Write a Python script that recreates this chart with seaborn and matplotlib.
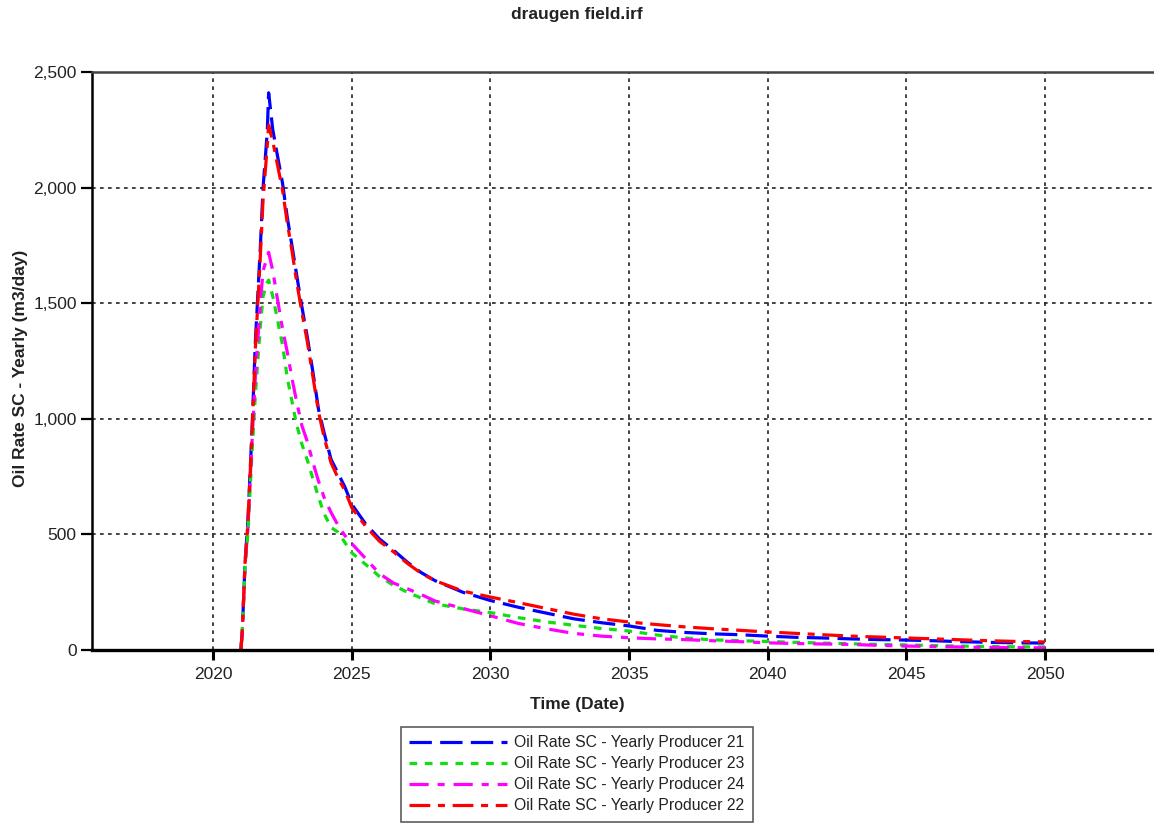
import numpy as np
import pandas as pd
import seaborn as sns
import matplotlib
matplotlib.use("Agg")
import matplotlib.pyplot as plt
from matplotlib.ticker import FuncFormatter

sns.set_theme(style="white")
plt.rcParams["font.family"] = ["Liberation Sans", "DejaVu Sans"]

# ---------------- data ----------------
time = [2021.0, 2021.05, 2021.15, 2021.25, 2021.4, 2021.52, 2021.7, 2021.8, 2021.95,
        2022.0, 2022.15, 2022.3, 2022.5, 2022.67, 2022.85,
        2023.0, 2023.2, 2023.4, 2023.6, 2023.8,
        2024.0, 2024.25, 2024.5, 2024.75,
        2025.0, 2025.5, 2026.0, 2026.5, 2027.0, 2027.5, 2028.0, 2029.0, 2030.0,
        2031, 2032, 2033, 2034, 2035, 2036, 2037, 2038, 2039, 2040,
        2041, 2042, 2043, 2044, 2045, 2046, 2047, 2048, 2049, 2050]

producer_21 = [0, 80, 380, 550, 950, 1330, 1740, 2000, 2240,
               2410, 2250, 2150, 2020, 1873, 1743,
               1630, 1484, 1350, 1200, 1040,
               940, 825, 765, 705,
               630, 545, 480, 432, 380, 335, 300, 250, 214,
               185, 160, 135, 118, 104, 85, 76, 70, 66, 60,
               55, 52, 48, 45, 43, 40, 36, 33, 31, 30]

producer_23 = [0, 80, 360, 500, 850, 1100, 1400, 1530, 1590,
               1600, 1530, 1440, 1320, 1180, 1070,
               980, 890, 820, 740, 660,
               590, 530, 510, 465,
               420, 370, 318, 280, 250, 225, 200, 178, 162,
               140, 122, 107, 93, 82, 65, 52, 44, 40, 37,
               33, 30, 27, 24, 22, 19, 17, 15, 14, 13]

producer_24 = [0, 80, 370, 520, 900, 1180, 1500, 1640, 1700,
               1720, 1640, 1530, 1390, 1290, 1170,
               1080, 970, 900, 810, 730,
               660, 595, 540, 495,
               460, 395, 330, 290, 265, 240, 212, 180, 148,
               115, 92, 72, 60, 53, 48, 45, 40, 36, 31,
               28, 26, 24, 20, 17, 15, 13, 11, 10, 9]

producer_22 = [0, 80, 380, 545, 940, 1300, 1700, 1950, 2180,
               2270, 2200, 2110, 1990, 1850, 1720,
               1600, 1460, 1330, 1180, 1030,
               920, 810, 745, 690,
               615, 535, 470, 425, 375, 332, 300, 255, 229,
               205, 180, 155, 135, 121, 110, 100, 92, 85, 78,
               72, 66, 60, 56, 52, 48, 44, 40, 37, 35]

series_names = ["Oil Rate SC - Yearly Producer 21",
                "Oil Rate SC - Yearly Producer 23",
                "Oil Rate SC - Yearly Producer 24",
                "Oil Rate SC - Yearly Producer 22"]
series_values = [producer_21, producer_23, producer_24, producer_22]

x_ticks = [2020, 2025, 2030, 2035, 2040, 2045, 2050]
y_ticks = [0, 500, 1000, 1500, 2000, 2500]

# ---------------- long table ----------------
frames = []
for name, vals in zip(series_names, series_values):
    frames.append(pd.DataFrame({"Time": time, "Rate": vals, "Series": name}))
df = pd.concat(frames, ignore_index=True)

palette = {series_names[0]: "#0000ff",
           series_names[1]: "#11dd11",
           series_names[2]: "#ff00ff",
           series_names[3]: "#ff0000"}
dashes = {series_names[0]: (7.0, 2.6),
          series_names[1]: (2.4, 2.4),
          series_names[2]: (6.0, 2.8, 2.2, 2.8),
          series_names[3]: (6.5, 2.4, 2.2, 2.4)}

# ---------------- figure ----------------
fig = plt.figure(figsize=(11.54, 8.25), dpi=100)
ax = fig.add_axes([92 / 1154, 1 - 650 / 825, 1 - 92 / 1154, (650 - 72) / 825])

sns.lineplot(data=df, x="Time", y="Rate", hue="Series", style="Series",
             hue_order=series_names, style_order=series_names,
             palette=palette, dashes=dashes, estimator=None, sort=False,
             linewidth=2.3, ax=ax, legend=False)

ax.set_xlim(2015.63, 2053.93)
ax.set_ylim(0, 2500)
ax.set_xticks(x_ticks)
ax.set_yticks(y_ticks)
ax.yaxis.set_major_formatter(FuncFormatter(lambda v, p: f"{v:,.0f}"))
ax.set_xlabel("")
ax.set_ylabel("")

ax.grid(True, color="#222222", linestyle=(0, (2.2, 2.6)), linewidth=1.2)

ax.spines["right"].set_visible(False)
ax.spines["top"].set_color("#444444")
ax.spines["top"].set_linewidth(1.8)
ax.spines["left"].set_color("black")
ax.spines["left"].set_linewidth(1.8)
ax.spines["bottom"].set_color("black")
ax.spines["bottom"].set_linewidth(2.4)

ax.tick_params(axis="x", direction="out", length=7, width=2.2, color="black",
               labelsize=12.5, labelcolor="#222222", pad=5, bottom=True)
ax.tick_params(axis="y", direction="out", length=8, width=1.6, color="black",
               labelsize=12.5, labelcolor="#222222", pad=3, left=True)

fig.text(0.5, 1 - 15 / 825, "draugen field.irf", ha="center", va="center",
         fontsize=12.5, fontweight="bold", color="#222222")
fig.text(0.5, 1 - 705 / 825, "Time (Date)", ha="center", va="center",
         fontsize=12.5, fontweight="bold", color="#222222")
fig.text(21 / 1154, 1 - 368 / 825, "Oil Rate SC - Yearly (m3/day)", ha="center",
         va="center", rotation=90, fontsize=12.5, fontweight="bold", color="#222222")

handles = ax.get_lines()[:4]
leg = fig.legend(handles, series_names, loc="lower center",
                 bbox_to_anchor=(0.5, 3 / 825), ncol=1, fontsize=11.3,
                 handlelength=6.2, handletextpad=0.5, labelspacing=0.38,
                 borderpad=0.55, borderaxespad=0, frameon=True, fancybox=False)
leg.get_frame().set_edgecolor("#333333")
leg.get_frame().set_linewidth(1.2)
for t in leg.get_texts():
    t.set_color("#222222")

fig.savefig("out.png", dpi=100)
